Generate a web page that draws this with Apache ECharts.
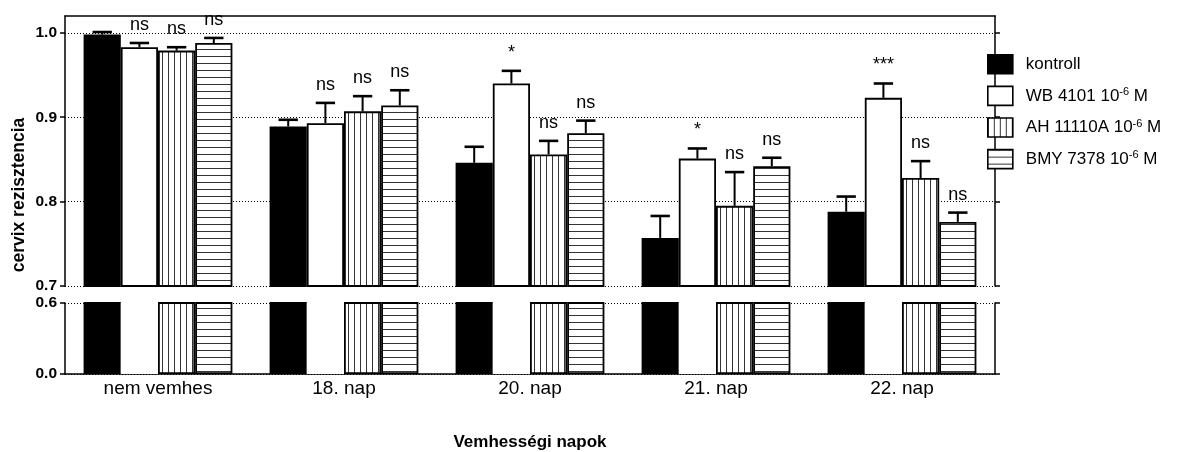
<!DOCTYPE html>
<html>
<head>
<meta charset="utf-8">
<script src="https://cdn.jsdelivr.net/npm/echarts@6/dist/echarts.min.js"></script>
<style>
  html, body { margin: 0; padding: 0; background: #fff; }
  #chart { width: 1179px; height: 452px; }
</style>
</head>
<body>
<div id="chart"></div>
<script>
// Gestation days
const categories = ['nem vemhes', '18. nap', '20. nap', '21. nap', '22. nap'];

// Group names (legend)
const seriesNames = ['kontroll', 'WB 4101 10-6 M', 'AH 11110A 10-6 M', 'BMY 7378 10-6 M'];

// Mean cervical resistance
const kontroll = [0.998, 0.889, 0.846, 0.757, 0.788];
const wb4101   = [0.983, 0.893, 0.940, 0.851, 0.923];
const ah11110a = [0.979, 0.907, 0.856, 0.795, 0.828];
const bmy7378  = [0.988, 0.914, 0.881, 0.842, 0.776];

// SEM
const kontrollErr = [0.003, 0.008, 0.019, 0.026, 0.018];
const wb4101Err   = [0.005, 0.024, 0.015, 0.012, 0.017];
const ah11110aErr = [0.004, 0.018, 0.016, 0.040, 0.020];
const bmy7378Err  = [0.006, 0.018, 0.015, 0.010, 0.011];

// Significance vs. kontroll
const kontrollSig = ['', '', '', '', ''];
const wb4101Sig   = ['ns', 'ns', '*', '*', '***'];
const ah11110aSig = ['ns', 'ns', 'ns', 'ns', 'ns'];
const bmy7378Sig  = ['ns', 'ns', 'ns', 'ns', 'ns'];

// Axis tick labels (upper and lower segment of the broken axis)
const upperTicks = [0.7, 0.8, 0.9, 1.0];
const lowerTicks = [0.0, 0.6];

const means = [kontroll, wb4101, ah11110a, bmy7378];
const errs = [kontrollErr, wb4101Err, ah11110aErr, bmy7378Err];
const sigs = [kontrollSig, wb4101Sig, ah11110aSig, bmy7378Sig];

const FONT = '"Liberation Sans", Arial, Helvetica, sans-serif';

function stripes(vertical) {
  const c = document.createElement('canvas');
  const ctx = c.getContext('2d');
  if (vertical) {
    c.width = 6; c.height = 4;
    ctx.fillStyle = '#fff'; ctx.fillRect(0, 0, 6, 4);
    ctx.fillStyle = '#333'; ctx.fillRect(0, 0, 1, 4);
  } else {
    c.width = 4; c.height = 7;
    ctx.fillStyle = '#fff'; ctx.fillRect(0, 0, 4, 7);
    ctx.fillStyle = '#333'; ctx.fillRect(0, 0, 4, 1);
  }
  return { image: c, repeat: 'repeat' };
}

const fills = ['#000', '#fff', stripes(true), stripes(false)];

function barSeries(i, gridIdx) {
  const lowerWhite = gridIdx === 1 && i === 1;
  return {
    type: 'bar',
    name: seriesNames[i],
    xAxisIndex: gridIdx,
    yAxisIndex: gridIdx === 0 ? 0 : 2,
    data: means[i],
    barGap: '0%',
    barCategoryGap: '20%',
    itemStyle: {
      color: fills[i],
      borderColor: lowerWhite ? '#fff' : '#000',
      borderWidth: lowerWhite ? 0 : 1.8
    },
    emphasis: { disabled: true },
    animation: false
  };
}

function errSeries(i) {
  return {
    type: 'custom',
    xAxisIndex: 0,
    yAxisIndex: 0,
    data: means[i].map((v, k) => [k, v, errs[i][k]]),
    encode: { x: 0, y: 1 },
    z: 5,
    animation: false,
    renderItem: function (params, api) {
      const k = api.value(0), v = api.value(1), e = api.value(2);
      const band = api.size([1, 0])[0];
      const bw = band * 0.8 / 4;
      const base = api.coord([k, v]);
      const cx = base[0] + (i - 1.5) * bw;
      const yTop = base[1];
      const yCap = api.coord([k, v + e])[1];
      const half = bw * 0.26;
      const children = [
        { type: 'line', shape: { x1: cx, y1: yTop, x2: cx, y2: yCap },
          style: { stroke: '#000', lineWidth: 2 } },
        { type: 'line', shape: { x1: cx - half, y1: yCap, x2: cx + half, y2: yCap },
          style: { stroke: '#000', lineWidth: 2.6 } }
      ];
      const s = sigs[i][params.dataIndex];
      if (s) {
        children.push({
          type: 'text',
          x: cx, y: yCap - 9,
          style: { text: s, fill: '#000', font: '18px ' + FONT,
                   align: 'center', verticalAlign: 'bottom' }
        });
      }
      return { type: 'group', children: children };
    }
  };
}

const axisLine = { show: true, lineStyle: { color: '#000', width: 1.5 } };
const tickStyle = { show: true, length: 5, lineStyle: { color: '#000', width: 1.5 } };
const gridLine = { show: true, lineStyle: { color: '#000', width: 1, type: [1, 2] } };
const tickLabel = { color: '#000', fontSize: 15.5, fontWeight: 'bold', fontFamily: FONT, margin: 8,
                    formatter: v => Number(v).toFixed(1) };

const option = {
  backgroundColor: '#fff',
  animation: false,
  grid: [
    { left: 65, right: 184, top: 16, bottom: 166 },
    { left: 65, right: 184, top: 303, bottom: 78 }
  ],
  xAxis: [
    { type: 'category', gridIndex: 0, data: categories, position: 'top',
      axisLine: axisLine, axisTick: { show: false }, axisLabel: { show: false },
      splitLine: { show: false } },
    { type: 'category', gridIndex: 1, data: categories, position: 'bottom',
      axisLine: axisLine, axisTick: { show: false },
      axisLabel: { color: '#000', fontSize: 19, fontFamily: FONT, margin: 5 },
      name: 'Vemhességi napok', nameLocation: 'middle', nameGap: 60,
      nameTextStyle: { color: '#000', fontSize: 17, fontWeight: 'bold', fontFamily: FONT } }
  ],
  yAxis: [
    { type: 'value', gridIndex: 0, position: 'left', min: 0.7, max: 1.02, interval: 0.1,
      axisLine: axisLine,
      axisTick: Object.assign({ customValues: upperTicks }, tickStyle),
      axisLabel: Object.assign({ customValues: upperTicks }, tickLabel),
      splitLine: gridLine },
    { type: 'value', gridIndex: 0, position: 'right', min: 0.7, max: 1.02, interval: 0.1,
      axisLine: axisLine,
      axisTick: Object.assign({ customValues: upperTicks }, tickStyle),
      axisLabel: { show: false }, splitLine: { show: false } },
    { type: 'value', gridIndex: 1, position: 'left', min: 0, max: 0.6, interval: 0.6,
      axisLine: axisLine,
      axisTick: Object.assign({ customValues: lowerTicks }, tickStyle),
      axisLabel: Object.assign({ customValues: lowerTicks }, tickLabel),
      splitLine: gridLine },
    { type: 'value', gridIndex: 1, position: 'right', min: 0, max: 0.6, interval: 0.6,
      axisLine: axisLine,
      axisTick: Object.assign({ customValues: lowerTicks }, tickStyle),
      axisLabel: { show: false }, splitLine: { show: false } }
  ],
  legend: {
    orient: 'vertical',
    left: 987,
    top: 54,
    padding: 0,
    itemWidth: 25,
    itemHeight: 19,
    itemGap: 11,
    icon: 'rect',
    selectedMode: false,
    data: seriesNames,
    itemStyle: { borderColor: '#000', borderWidth: 1.6 },
    formatter: function (name) {
      const m = name.match(/^(.*10)(-6)( M)$/);
      if (!m) return '{a|' + name + '}';
      return '{a|' + m[1] + '}{sup|' + m[2] + '}{a|' + m[3] + '}';
    },
    textStyle: {
      color: '#000',
      padding: [0, 0, 0, 8],
      rich: {
        a: { fontSize: 17, fontFamily: FONT, color: '#000', lineHeight: 19 },
        sup: { fontSize: 11, fontFamily: FONT, color: '#000', lineHeight: 11, verticalAlign: 'top' }
      }
    }
  },
  graphic: [
    { type: 'text', x: 19, y: 195, rotation: Math.PI / 2,
      style: { text: 'cervix rezisztencia', fill: '#000', font: 'bold 17.5px ' + FONT,
               align: 'center', verticalAlign: 'middle' } }
  ],
  series: [
    barSeries(0, 0), barSeries(1, 0), barSeries(2, 0), barSeries(3, 0),
    barSeries(0, 1), barSeries(1, 1), barSeries(2, 1), barSeries(3, 1),
    errSeries(0), errSeries(1), errSeries(2), errSeries(3)
  ]
};

const chart = echarts.init(document.getElementById('chart'), null, { renderer: 'canvas' });
chart.setOption(option);
</script>
</body>
</html>
